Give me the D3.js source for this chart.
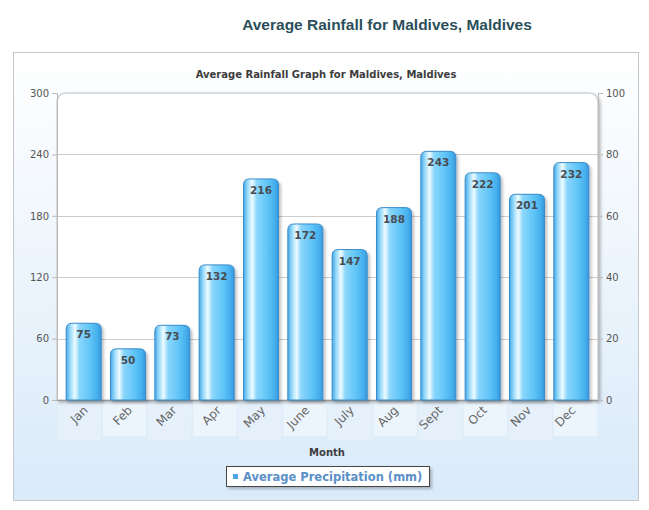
<!DOCTYPE html>
<html><head><meta charset="utf-8">
<script src="https://cdn.jsdelivr.net/npm/d3@7"></script>
<style>body{margin:0;background:#fff}svg{display:block}</style>
</head><body><svg id="c" width="649" height="510"></svg>
<script>
const months = ["Jan","Feb","Mar","Apr","May","June","July","Aug","Sept","Oct","Nov","Dec"];
const rainfall = [75,50,73,132,216,172,147,188,243,222,201,232];
const leftTicks = [0,60,120,180,240,300];
const rightTicks = [0,20,40,60,80,100];
const seriesName = "Average Precipitation (mm)";

const svg = d3.select("#c");
const defs = svg.append("defs");
const pg = defs.append("linearGradient").attr("id","panelG").attr("x1",0).attr("y1",0).attr("x2",0).attr("y2",1);
pg.append("stop").attr("offset","0%").attr("stop-color","#ffffff");
pg.append("stop").attr("offset","100%").attr("stop-color","#d9eaf9");
const bg = defs.append("linearGradient").attr("id","barG").attr("x1",0).attr("y1",0).attr("x2",1).attr("y2",0);
[[0,"#45a8e6"],[0.12,"#9adcfb"],[0.25,"#eefbff"],[0.38,"#8ad6fb"],[0.7,"#5ec4f7"],[0.9,"#45aeec"],[1,"#3596dc"]]
  .forEach(([o,c])=>bg.append("stop").attr("offset",o).attr("stop-color",c));
const f = defs.append("filter").attr("id","sh").attr("x","-10%").attr("y","-10%").attr("width","130%").attr("height","130%");
f.append("feDropShadow").attr("dx",2).attr("dy",2).attr("stdDeviation",1.5).attr("flood-color","#000").attr("flood-opacity",0.25);

// title
svg.append("text").attr("x",387).attr("y",30).attr("text-anchor","middle")
  .attr("font-family","Arial, Liberation Sans, sans-serif").attr("font-weight","bold").attr("font-size",15.5)
  .attr("fill","#2b4f5a").text("Average Rainfall for Maldives, Maldives");

// panel
svg.append("rect").attr("x",13.5).attr("y",52.5).attr("width",625).attr("height",448)
  .attr("fill","url(#panelG)").attr("stroke","#c4c8cc");

svg.append("text").attr("x",326).attr("y",78).attr("text-anchor","middle")
  .attr("font-family","Verdana, DejaVu Sans, sans-serif").attr("font-weight","bold").attr("font-size",10)
  .attr("fill","#3c3c3c").text("Average Rainfall Graph for Maldives, Maldives");

const L=57,R=598,T=93,B=400;
const y = d3.scaleLinear().domain([0,300]).range([B,T]);
const y2 = d3.scaleLinear().domain([0,100]).range([B,T]);
const x = d3.scaleBand().domain(months).range([L+4.5,R-4.5]).paddingInner(0.21).paddingOuter(0.105);

// label background boxes
const slot = d3.scaleBand().domain(months).range([L,R]);
svg.append("g").selectAll("rect").data(months).join("rect")
  .attr("x",d=>slot(d)+1).attr("y",B+2).attr("width",slot.bandwidth()-2).attr("height",(d,i)=>i%2?34:38)
  .attr("fill",(d,i)=>i%2?"#eef5fc":"#e6f0fa").attr("opacity",0.9);

// plot area
svg.append("path").attr("d",`M${L},${B}V${T+10}Q${L},${T} ${L+10},${T}H${R-10}Q${R},${T} ${R},${T+10}V${B}Z`)
  .attr("fill","#fff").attr("stroke","#cfd3d6").attr("stroke-width",1.5).attr("filter","url(#sh)");

// grid
svg.append("g").selectAll("line").data(leftTicks.filter(d=>d>0&&d<300)).join("line")
  .attr("x1",L).attr("x2",R).attr("y1",d=>Math.round(y(d))+0.5).attr("y2",d=>Math.round(y(d))+0.5)
  .attr("stroke","#cccccc");

// axes
const ax = svg.append("g").attr("transform",`translate(${L},0)`)
  .call(d3.axisLeft(y).tickValues(leftTicks).tickSize(5).tickPadding(3));
const ax2 = svg.append("g").attr("transform",`translate(${R},0)`)
  .call(d3.axisRight(y2).tickValues(rightTicks).tickSize(5).tickPadding(3));
[ax,ax2].forEach(a=>{
  a.select(".domain").attr("stroke","#bbbbbb");
  a.selectAll(".tick line").attr("stroke","#bbbbbb");
  a.selectAll("text").attr("font-family","Verdana, DejaVu Sans, sans-serif").attr("font-size",10).attr("fill","#555");
});
svg.append("line").attr("x1",L).attr("x2",R).attr("y1",B+0.5).attr("y2",B+0.5).attr("stroke","#999");

// bars
const bw = x.bandwidth(), r = 6;
svg.append("g").selectAll("path").data(rainfall).join("path")
  .attr("d",(d,i)=>{const x0=x(months[i]),y0=y(d);return `M${x0},${B}V${y0+r}Q${x0},${y0} ${x0+r},${y0}H${x0+bw-r}Q${x0+bw},${y0} ${x0+bw},${y0+r}V${B}Z`;})
  .attr("fill","url(#barG)").attr("stroke","#3a8ccc").attr("stroke-width",1).attr("filter","url(#sh)");

svg.append("g").selectAll("text").data(rainfall).join("text")
  .attr("x",(d,i)=>x(months[i])+bw/2).attr("y",d=>y(d)+15).attr("text-anchor","middle")
  .attr("font-family","Verdana, DejaVu Sans, sans-serif").attr("font-weight","bold").attr("font-size",10.5)
  .attr("fill","#474c52").text(d=>d);

// x labels
svg.append("g").selectAll("text").data(months).join("text")
  .attr("transform",d=>`translate(${x(d)+bw/2+5},${B+11}) rotate(-45)`).attr("text-anchor","end")
  .attr("font-family","Verdana, DejaVu Sans, sans-serif").attr("font-size",12).attr("fill","#666").text(d=>d);

svg.append("text").attr("x",327).attr("y",456).attr("text-anchor","middle")
  .attr("font-family","Verdana, DejaVu Sans, sans-serif").attr("font-weight","bold").attr("font-size",10)
  .attr("fill","#3c3c3c").text("Month");

// legend
const lg = svg.append("g");
lg.append("rect").attr("x",226.5).attr("y",466.5).attr("width",203).attr("height",20)
  .attr("fill","#fff").attr("stroke","#444").attr("filter","url(#sh)");
lg.append("rect").attr("x",233).attr("y",474).attr("width",5).attr("height",5).attr("fill","#4aa6e6");
lg.append("text").attr("x",243).attr("y",480.5)
  .attr("font-family","Verdana, DejaVu Sans, sans-serif").attr("font-weight","bold").attr("font-size",11.5)
  .attr("fill","#5b8fc8").text(seriesName);
</script></body></html>
